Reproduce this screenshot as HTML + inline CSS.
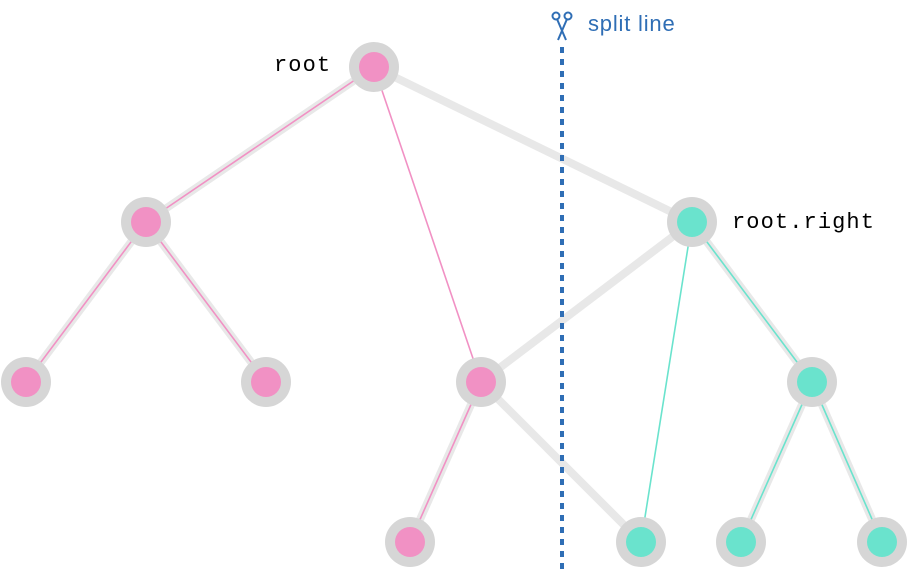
<!DOCTYPE html>
<html><head><style>html,body{margin:0;padding:0;background:#fff}svg{display:block}</style></head>
<body>
<svg width="909" height="569" xmlns="http://www.w3.org/2000/svg">
<g stroke="#e8e8e8" stroke-width="8" stroke-linecap="round">
<line x1="374" y1="67" x2="146" y2="222"/>
<line x1="374" y1="67" x2="692" y2="222"/>
<line x1="146" y1="222" x2="26" y2="382"/>
<line x1="146" y1="222" x2="266" y2="382"/>
<line x1="692" y1="222" x2="481" y2="382"/>
<line x1="692" y1="222" x2="812" y2="382"/>
<line x1="481" y1="382" x2="410" y2="542"/>
<line x1="481" y1="382" x2="641" y2="542"/>
<line x1="812" y1="382" x2="741" y2="542"/>
<line x1="812" y1="382" x2="882" y2="542"/>
</g>
<g stroke="#f191c4" stroke-width="1.6">
<line x1="374" y1="67" x2="146" y2="222"/>
<line x1="374" y1="67" x2="481" y2="382"/>
<line x1="146" y1="222" x2="26" y2="382"/>
<line x1="146" y1="222" x2="266" y2="382"/>
<line x1="481" y1="382" x2="410" y2="542"/>
</g>
<g stroke="#6ae3cd" stroke-width="1.6">
<line x1="692" y1="222" x2="641" y2="542"/>
<line x1="692" y1="222" x2="812" y2="382"/>
<line x1="812" y1="382" x2="741" y2="542"/>
<line x1="812" y1="382" x2="882" y2="542"/>
</g>
<line x1="562" y1="47" x2="562" y2="569" stroke="#2f6eb5" stroke-width="4" stroke-dasharray="6,6"/>
<g fill="#d6d6d6">
<circle cx="374" cy="67" r="25"/><circle cx="146" cy="222" r="25"/><circle cx="692" cy="222" r="25"/>
<circle cx="26" cy="382" r="25"/><circle cx="266" cy="382" r="25"/><circle cx="481" cy="382" r="25"/><circle cx="812" cy="382" r="25"/>
<circle cx="410" cy="542" r="25"/><circle cx="641" cy="542" r="25"/><circle cx="741" cy="542" r="25"/><circle cx="882" cy="542" r="25"/>
</g>
<g fill="#f191c4">
<circle cx="374" cy="67" r="15"/><circle cx="146" cy="222" r="15"/><circle cx="26" cy="382" r="15"/><circle cx="266" cy="382" r="15"/><circle cx="481" cy="382" r="15"/><circle cx="410" cy="542" r="15"/>
</g>
<g fill="#6ae3cd">
<circle cx="692" cy="222" r="15"/><circle cx="812" cy="382" r="15"/><circle cx="641" cy="542" r="15"/><circle cx="741" cy="542" r="15"/><circle cx="882" cy="542" r="15"/>
</g>
<g stroke="#2f6eb5" stroke-width="2" fill="none">
<circle cx="556" cy="16" r="3.5"/><circle cx="568" cy="16" r="3.5"/>
<line x1="557" y1="19" x2="566" y2="40"/><line x1="567" y1="19" x2="558" y2="40"/>
</g>
<text x="588" y="31" font-family="Liberation Sans, sans-serif" font-size="22" letter-spacing="0.8" fill="#2f6eb5">split line</text>
<text x="274" y="71" font-family="Liberation Mono, monospace" font-size="22" letter-spacing="1.1" fill="#000">root</text>
<text x="732" y="228" font-family="Liberation Mono, monospace" font-size="22" letter-spacing="1.1" fill="#000">root.right</text>
</svg>
</body></html>
